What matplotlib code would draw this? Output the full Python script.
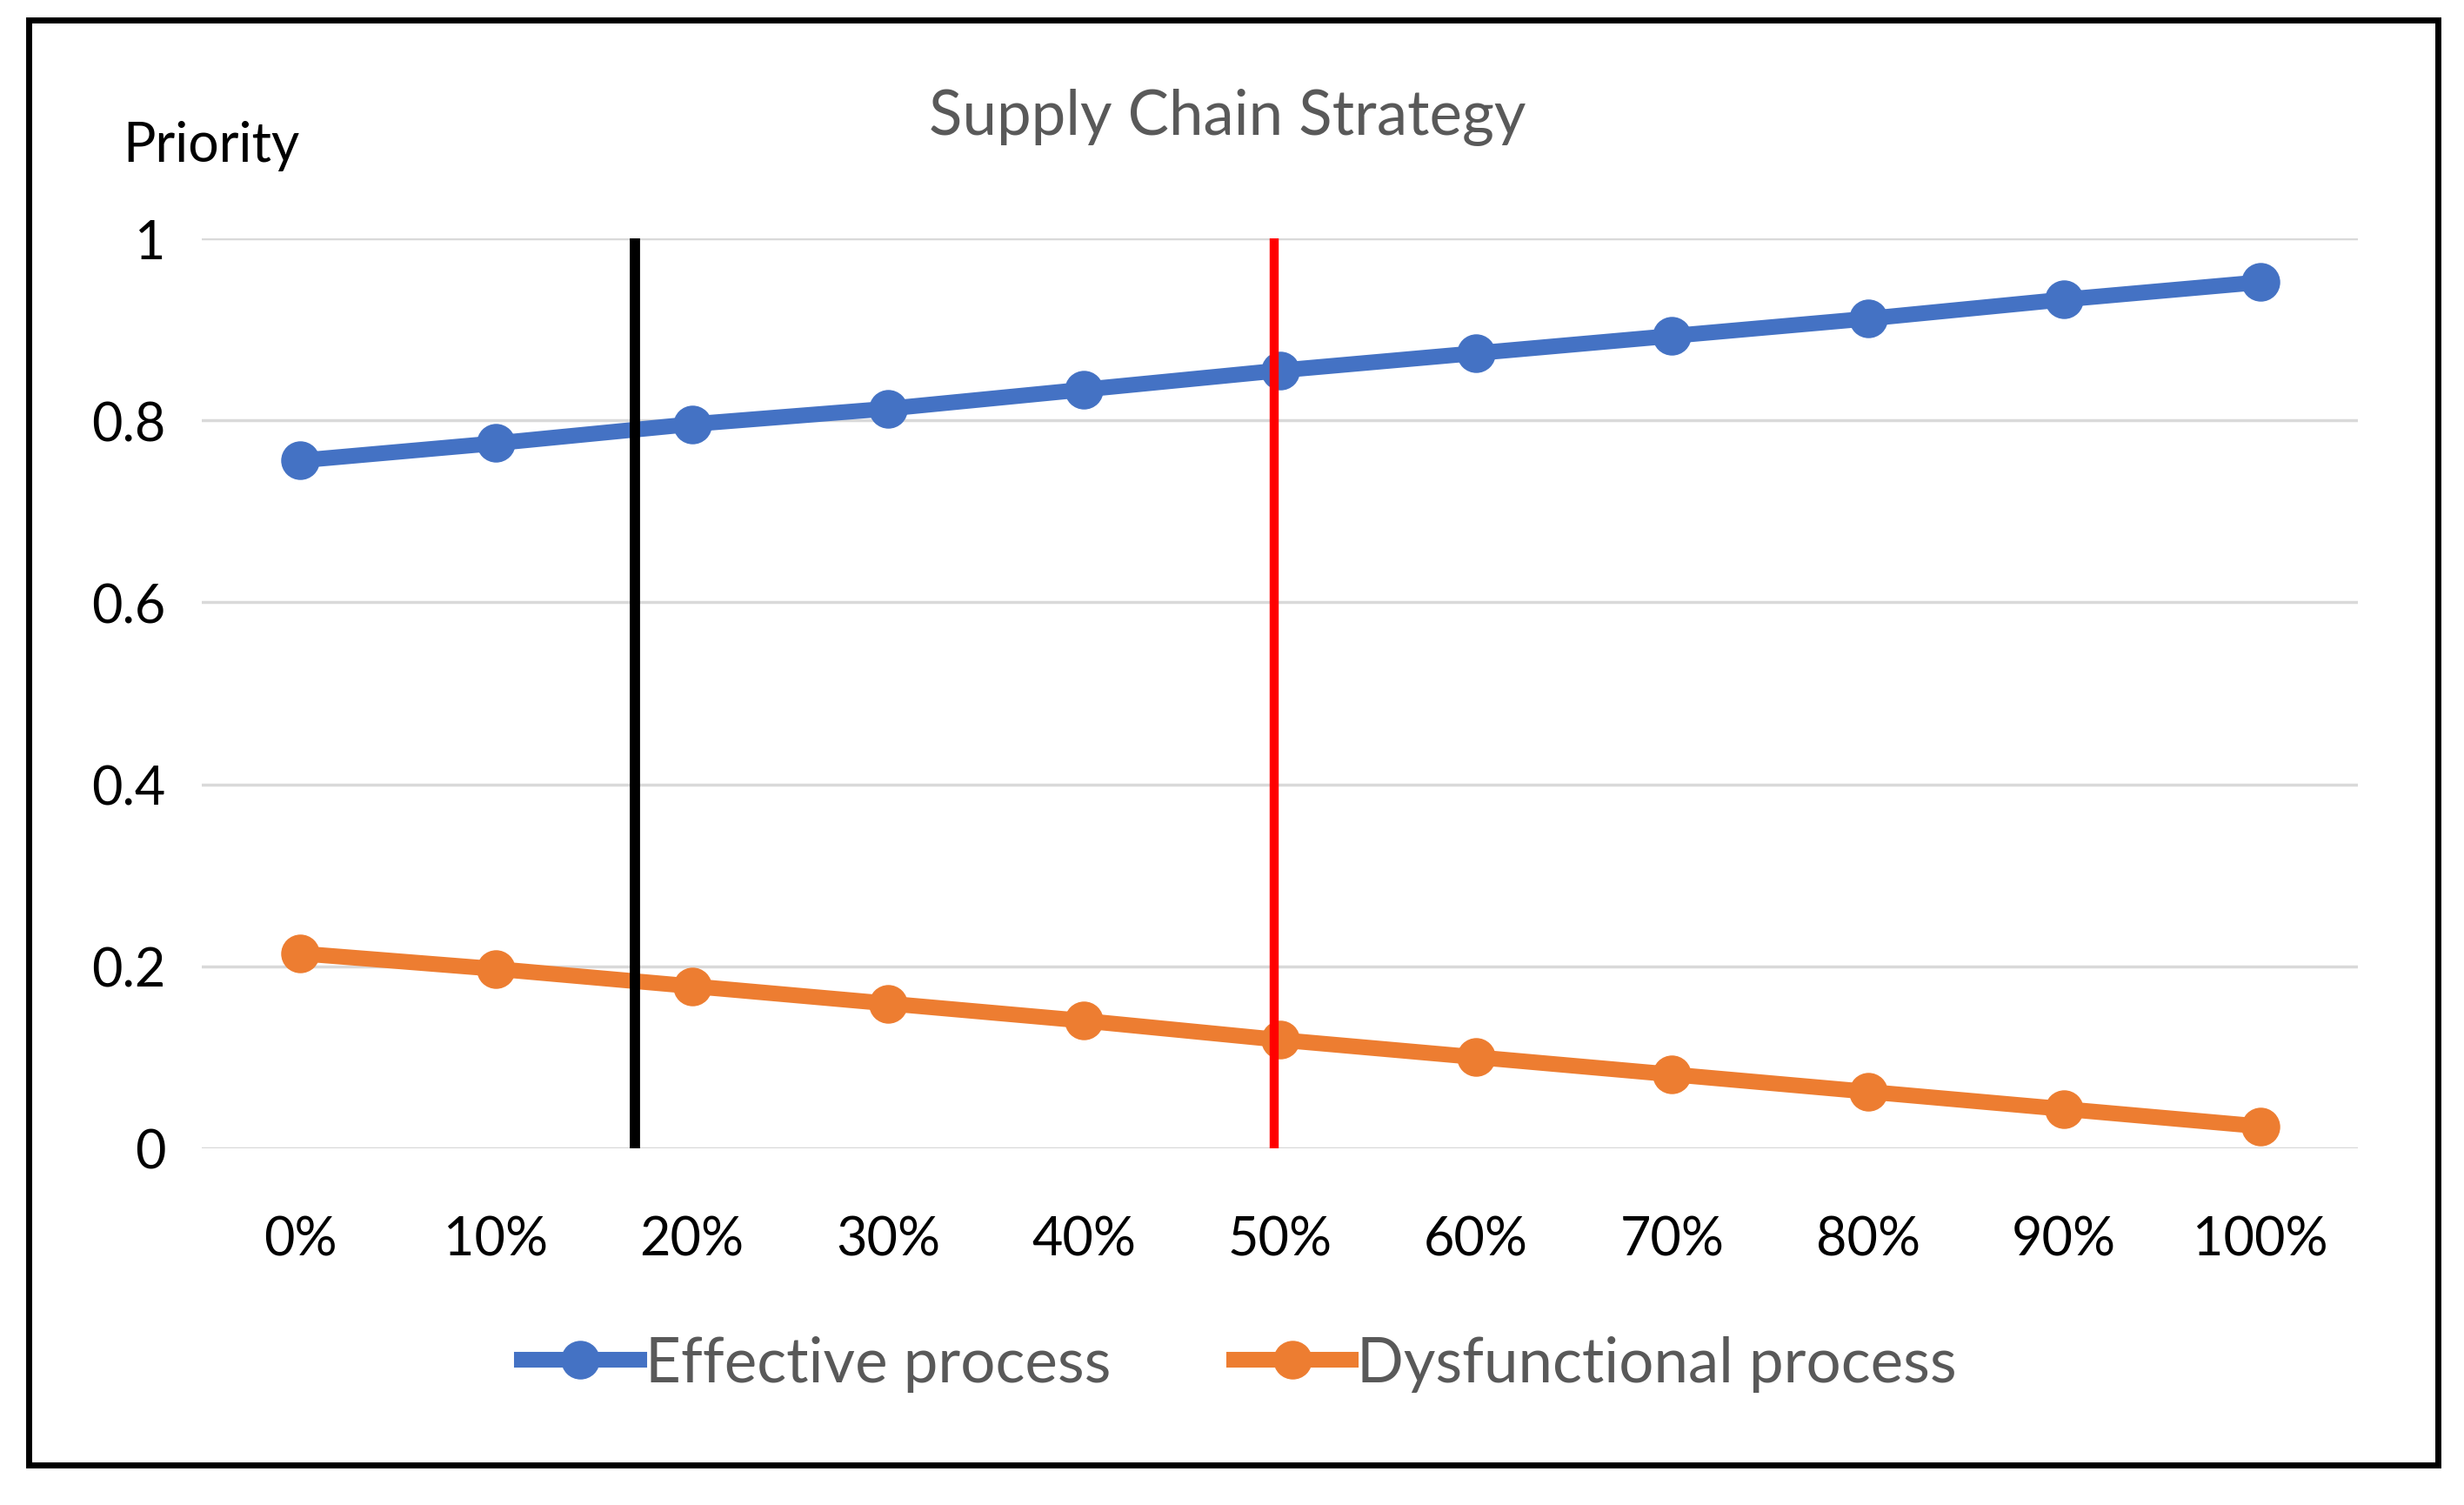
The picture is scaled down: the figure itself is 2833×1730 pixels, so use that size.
import matplotlib
matplotlib.use('Agg')
import matplotlib.pyplot as plt
from matplotlib.patches import Rectangle

plt.rcParams['font.family'] = ['Lato', 'DejaVu Sans']

categories = ['0%', '10%', '20%', '30%', '40%', '50%', '60%', '70%', '80%', '90%', '100%']
effective = [0.756, 0.775, 0.796, 0.813, 0.834, 0.855, 0.874, 0.893, 0.912, 0.933, 0.952]
dysfunctional = [0.214, 0.197, 0.178, 0.159, 0.140, 0.119, 0.100, 0.081, 0.062, 0.043, 0.024]
black_line_pos = 1.71   # in category units
red_line_pos = 4.97
y_ticks = [0, 0.2, 0.4, 0.6, 0.8, 1]
y_tick_labels = ['0', '0.2', '0.4', '0.6', '0.8', '1']

fig = plt.figure(figsize=(28.33, 17.31), dpi=100)
ax = fig.add_axes([0.082, 0.237, 0.875, 0.604])

x = list(range(len(categories)))
for y in y_ticks:
    ax.axhline(y, color='#d9d9d9', lw=2.5, zorder=0)

ax.plot(x, effective, color='#4472C4', lw=13, marker='o', ms=31,
        label='Effective process', zorder=3)
ax.plot(x, dysfunctional, color='#ED7D31', lw=13, marker='o', ms=31,
        label='Dysfunctional process', zorder=3)

ax.vlines(black_line_pos, 0, 1, color='black', lw=8.5, zorder=4)
ax.vlines(red_line_pos, 0, 1, color='#ff0000', lw=7.5, zorder=4)

ax.set_xlim(-0.5, len(categories) - 0.5)
ax.set_ylim(0, 1)
ax.set_xticks(x)
ax.set_xticklabels(categories, fontsize=44)
ax.set_yticks(y_ticks)
ax.set_yticklabels(y_tick_labels, fontsize=44)
ax.tick_params(axis='both', length=0, colors='black')
ax.tick_params(axis='x', pad=55)
ax.tick_params(axis='y', pad=30)
for s in ax.spines.values():
    s.set_visible(False)

fig.text(0.498, 0.922, 'Supply Chain Strategy', fontsize=51, color='#595959',
         ha='center', va='center')
fig.text(0.05, 0.903, 'Priority', fontsize=45, color='black', ha='left', va='center')

leg = fig.legend(loc='center', bbox_to_anchor=(0.503, 0.094), ncol=2, frameon=False,
                 fontsize=51, handlelength=1.9, columnspacing=2.0, handletextpad=0.1)
for t in leg.get_texts():
    t.set_color('#595959')

fig.add_artist(Rectangle((0.0117, 0.0266), 0.9776, 0.9596, transform=fig.transFigure,
                         fill=False, ec='black', lw=5))

fig.savefig('out.png', dpi=100)
